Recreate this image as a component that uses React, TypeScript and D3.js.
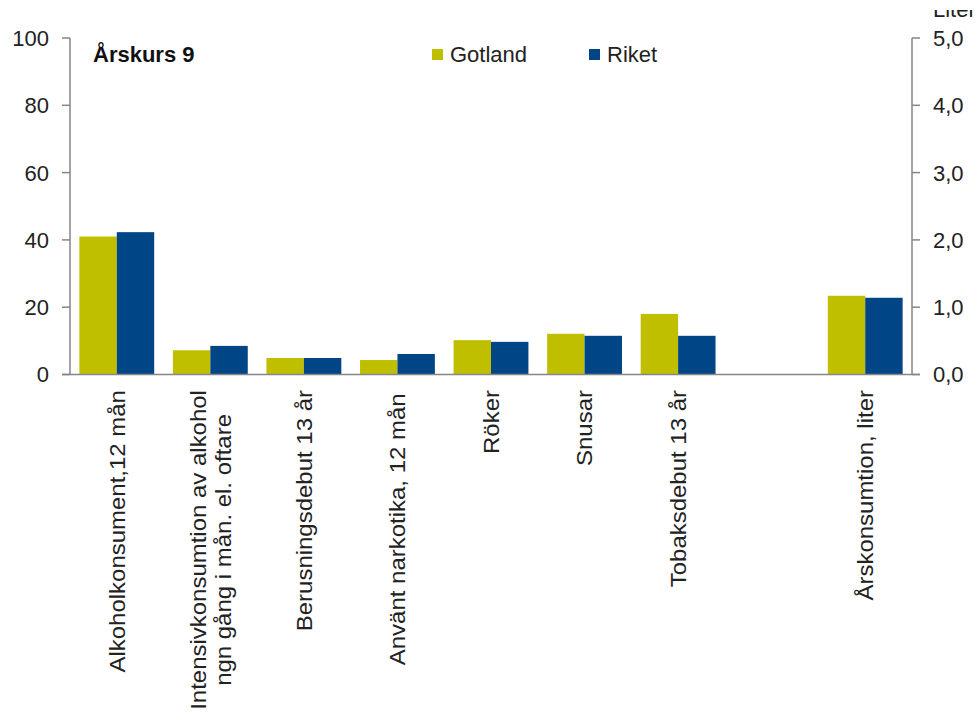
import React from "react";
import * as d3 from "d3";

const categories: string[] = [
  "Alkoholkonsument,12 mån",
  "Intensivkonsumtion av alkohol\nngn gång i mån. el. oftare",
  "Berusningsdebut 13 år",
  "Använt narkotika,  12 mån",
  "Röker",
  "Snusar",
  "Tobaksdebut 13 år",
  "",
  "Årskonsumtion, liter",
];
// which axis each category belongs to
const axisSide: string[] = ["left", "left", "left", "left", "left", "left", "left", "left", "right"];
const gotland: (number | null)[] = [41.0, 7.2, 4.9, 4.3, 10.2, 12.1, 18.0, null, 1.17];
const riket: (number | null)[] = [42.3, 8.5, 4.9, 6.1, 9.7, 11.5, 11.5, null, 1.14];
const seriesNames = ["Gotland", "Riket"];
const seriesColors = ["#BFBF00", "#004586"];
const leftTicks = [0, 20, 40, 60, 80, 100];
const rightTicks = [0, 1, 2, 3, 4, 5];
const title = "Årskurs 9";
const rightTitle = "Liter";

const W = 978;
const H = 713;
const FONT = "'Liberation Sans', Arial, sans-serif";
const FS = 22;
const AXIS = "#868686";
const TXT = "#222222";

let ctx: CanvasRenderingContext2D | null = null;
function measure(s: string): number {
  if (!ctx) {
    const c = document.createElement("canvas");
    ctx = c.getContext("2d");
  }
  if (!ctx) return s.length * FS * 0.5;
  ctx.font = `${FS}px ${FONT}`;
  return ctx.measureText(s).width;
}

export default function App() {
  const x0 = 70;
  const x1 = 912;
  const yTop = 38;
  const yBot = 374.5;

  const xBand = d3.scaleBand<string>().domain(categories.map((_, i) => String(i))).range([x0, x1]).paddingInner(0.2).paddingOuter(0.1);
  const xSub = d3.scaleBand<string>().domain(seriesNames).range([0, xBand.bandwidth()]).padding(0);
  const yL = d3.scaleLinear().domain([0, 100]).range([yBot, yTop]);
  const yR = d3.scaleLinear().domain([0, 5]).range([yBot, yTop]);

  const bars: React.ReactNode[] = [];
  categories.forEach((_, i) => {
    const scale = axisSide[i] === "right" ? yR : yL;
    [gotland, riket].forEach((arr, s) => {
      const v = arr[i];
      if (v == null) return;
      const bx = (xBand(String(i)) as number) + (xSub(seriesNames[s]) as number);
      bars.push(
        <rect key={`b${i}-${s}`} x={bx} y={scale(v)} width={xSub.bandwidth()} height={yBot - scale(v)} fill={seriesColors[s]} />
      );
    });
  });

  return (
    <svg width={W} height={H} style={{ position: "absolute", left: 0, top: 0, background: "#fff" }} fontFamily={FONT}>
      <defs>
        <clipPath id="topclip">
          <rect x={0} y={10} width={W} height={H} />
        </clipPath>
      </defs>
      <rect x={0} y={0} width={W} height={H} fill="#fff" />
      {bars}
      {/* left axis */}
      <line x1={x0} x2={x0} y1={yTop} y2={yBot} stroke={AXIS} strokeWidth={1.5} />
      {leftTicks.map((t) => (
        <g key={`lt${t}`}>
          <line x1={x0 - 8} x2={x0} y1={yL(t)} y2={yL(t)} stroke={AXIS} strokeWidth={1.5} />
          <text x={49} y={yL(t)} dy="0.36em" textAnchor="end" fontSize={FS} fill={TXT}>{t}</text>
        </g>
      ))}
      {/* right axis */}
      <line x1={x1} x2={x1} y1={yTop} y2={yBot} stroke={AXIS} strokeWidth={1.5} />
      {rightTicks.map((t) => (
        <g key={`rt${t}`}>
          <line x1={x1} x2={x1 + 8} y1={yR(t)} y2={yR(t)} stroke={AXIS} strokeWidth={1.5} />
          <text x={933} y={yR(t)} dy="0.36em" textAnchor="start" fontSize={FS} fill={TXT}>{d3.format(".1f")(t).replace(".", ",")}</text>
        </g>
      ))}
      <text x={933} y={16.5} fontSize={FS} fill={TXT} clipPath="url(#topclip)">{rightTitle}</text>
      {/* x axis */}
      <line x1={x0 - 8} x2={x1 + 8} y1={yBot} y2={yBot} stroke={AXIS} strokeWidth={1.5} />
      {/* category labels */}
      {categories.map((c, i) => {
        if (!c) return null;
        const cx = (xBand(String(i)) as number) + xBand.bandwidth() / 2;
        const lines = c.split("\n");
        const lh = 25;
        const maxW = Math.max(...lines.map(measure));
        return (
          <g key={`c${i}`} transform={`translate(${cx},${390}) rotate(-90) scale(1.09,1)`}>
            {lines.map((ln, k) => (
              <text key={`t${k}`} x={-maxW / 2} y={(k - (lines.length - 1) / 2) * lh} dy="0.36em" textAnchor="middle" fontSize={FS} fill={TXT}>
                {ln}
              </text>
            ))}
          </g>
        );
      })}
      {/* title */}
      <text x={93} y={62} fontSize={FS} fontWeight="bold" fill="#111">{title}</text>
      {/* legend */}
      {seriesNames.map((s, k) => {
        const lx = [432, 589][k];
        return (
          <g key={`lg${k}`}>
            <rect x={lx} y={49} width={11} height={11} fill={seriesColors[k]} />
            <text x={lx + 18} y={54.5} dy="0.36em" fontSize={FS} fill={TXT}>{s}</text>
          </g>
        );
      })}
    </svg>
  );
}
